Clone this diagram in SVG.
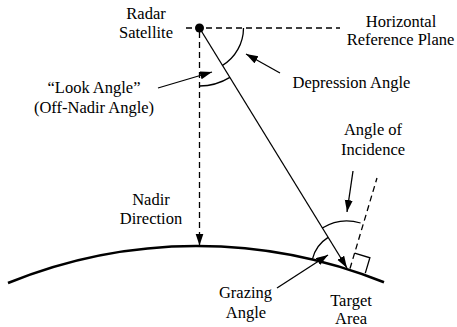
<svg xmlns="http://www.w3.org/2000/svg" width="457" height="327" viewBox="0 0 457 327">
<style>
.t{font-family:'Liberation Serif','Times New Roman',Times,'DejaVu Serif',serif;font-size:16.5px;fill:#000;text-anchor:middle}
.l{fill:none;stroke:#000;stroke-width:1.3}
.d{fill:none;stroke:#000;stroke-width:1.3;stroke-dasharray:6,4}
.e{fill:none;stroke:#000;stroke-width:2.6}
</style>
<defs>
<marker id="ah" markerUnits="userSpaceOnUse" markerWidth="13" markerHeight="9" refX="12" refY="4" orient="auto">
<path d="M0,0 L12,4 L0,8 z" fill="#000" stroke="none"/>
</marker>
</defs>
<rect width="457" height="327" fill="#fff"/>
<g id="connectors">
<path class="e" d="M8,283 A500,500 0 0 1 384,282.3"/>
<line class="d" x1="186" y1="28" x2="340" y2="28"/>
<line class="d" x1="199.5" y1="32" x2="199.5" y2="245.5" marker-end="url(#ah)"/>
<line class="l" x1="199.5" y1="28" x2="347" y2="268" marker-end="url(#ah)"/>
<line class="d" x1="350" y1="268.5" x2="377" y2="178"/>
<polyline class="l" points="354.6,253.2 369.9,257.8 365.3,273.1"/>
<path class="l" d="M243.5,28 A44,44 0 0 1 222.5,65.4"/>
<path class="l" d="M199.5,86 A58,58 0 0 0 229.9,77.4"/>
<path class="l" d="M360.6,223 A47,47 0 0 0 322.3,228"/>
<path class="l" d="M328.1,237.4 A36,36 0 0 0 312.5,258.8"/>
<line class="l" x1="280" y1="73" x2="246" y2="54" marker-end="url(#ah)"/>
<line class="l" x1="158" y1="88" x2="212" y2="72" marker-end="url(#ah)"/>
<line class="l" x1="353" y1="171" x2="347" y2="212" marker-end="url(#ah)"/>
<line class="l" x1="277" y1="288" x2="328" y2="255" marker-end="url(#ah)"/>
</g>
<g id="satellite">
<circle cx="199.5" cy="28" r="4.5" fill="#000"/>
<text class="t" x="146" y="19">Radar</text>
<text class="t" x="146" y="37.5">Satellite</text>
</g>
<g id="reference-plane">
<text class="t" x="401" y="27">Horizontal</text>
<text class="t" x="400.5" y="45">Reference Plane</text>
</g>
<g id="depression-angle">
<text class="t" x="351.5" y="88">Depression Angle</text>
</g>
<g id="look-angle">
<text class="t" x="94" y="93">“Look Angle”</text>
<text class="t" x="94" y="112.5">(Off-Nadir Angle)</text>
</g>
<g id="incidence">
<text class="t" x="373" y="135">Angle of</text>
<text class="t" x="373" y="155">Incidence</text>
</g>
<g id="nadir">
<text class="t" x="151" y="204.5">Nadir</text>
<text class="t" x="151" y="224">Direction</text>
</g>
<g id="grazing">
<text class="t" x="245.5" y="298">Grazing</text>
<text class="t" x="246" y="317.5">Angle</text>
</g>
<g id="target">
<text class="t" x="351" y="305.5">Target</text>
<text class="t" x="351" y="324">Area</text>
</g>
</svg>
